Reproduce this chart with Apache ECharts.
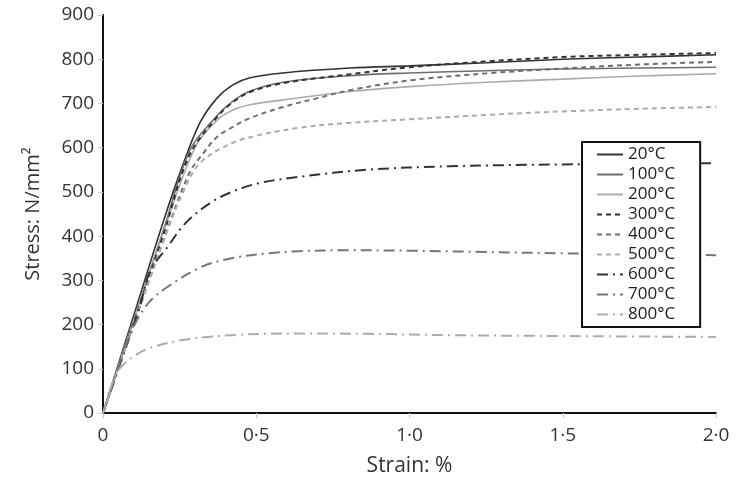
<!DOCTYPE html>
<html>
<head>
<meta charset="utf-8">
<script src="https://cdn.jsdelivr.net/npm/echarts@6/dist/echarts.min.js"></script>
<style>
  html, body { margin: 0; padding: 0; background: #fff; }
  #chart { width: 736px; height: 481px; }
</style>
</head>
<body>
<div id="chart"></div>
<script>
// strain (%) , stress (N/mm2)
var t20 = [[0,0],[0.1,220],[0.2,440],[0.258,556],[0.316,656],[0.372,712],[0.424,742],[0.48,758],[0.587,769],[0.806,780],[1.0,785],[1.25,792],[1.5,800],[1.75,805],[2.0,810]];
var t100 = [[0,0],[0.1,210],[0.2,420],[0.284,595],[0.372,672],[0.424,705],[0.48,728],[0.587,748],[0.806,763],[1.0,769],[1.25,774],[1.5,778],[1.75,780],[2.0,782]];
var t200 = [[0,0],[0.1,210],[0.2,415],[0.3,600],[0.372,662],[0.424,685],[0.48,697],[0.587,708],[0.806,727],[1.0,738],[1.25,748],[1.5,755],[1.75,762],[2.0,767]];
var t300 = [[0,0],[0.1,205],[0.2,410],[0.28,580],[0.372,669],[0.424,703],[0.48,726],[0.587,746],[0.806,766],[1.0,782],[1.25,795],[1.5,805],[1.75,810],[2.0,814]];
var t400 = [[0,0],[0.1,200],[0.2,395],[0.28,540],[0.33,590],[0.372,624],[0.424,647],[0.48,667],[0.587,692],[0.7,712],[0.806,730],[1.0,752],[1.25,768],[1.5,779],[1.75,788],[2.0,794]];
var t500 = [[0,0],[0.1,200],[0.2,395],[0.26,497],[0.316,565],[0.42,610],[0.5,627],[0.64,645],[0.8,656],[1.0,664],[1.25,674],[1.5,682],[1.75,688],[2.0,692]];
var t600 = [[0,0],[0.05,100],[0.12,240],[0.153,320],[0.21,375],[0.27,430],[0.35,475],[0.42,500],[0.51,520],[0.64,534],[0.86,550],[1.13,558],[1.5,562],[2.0,565]];
var t700 = [[0,0],[0.05,105],[0.1,195],[0.15,250],[0.21,285],[0.32,330],[0.42,350],[0.54,361],[0.64,366],[0.8,368],[1.0,367],[1.25,364],[1.5,361],[1.75,359],[2.0,357]];
var t800 = [[0,0],[0.04,85],[0.06,105],[0.1,128],[0.153,147],[0.26,165],[0.42,176],[0.64,180],[0.86,179],[1.13,176],[1.5,174],[2.0,172]];

var names = ['20°C','100°C','200°C','300°C','400°C','500°C','600°C','700°C','800°C'];
var curves = [t20, t100, t200, t300, t400, t500, t600, t700, t800];
var colors = ['#333333','#6e6e6e','#ababab','#333333','#6e6e6e','#ababab','#333333','#777777','#ababab'];
var dashes = ['solid','solid','solid',[5,4],[5,4],[5,4],[11,5,2,5],[11,5,2,5],[11,5,2,5]];

var font = '"Open Sans", "Noto Sans", sans-serif';

var series = [];
for (var i = 0; i < names.length; i++) {
    series.push({
        name: names[i],
        type: 'line',
        data: curves[i],
        symbol: 'none',
        smooth: 0.35,
        lineStyle: { color: colors[i], width: i < 3 ? 1.6 : 2, type: dashes[i] },
        itemStyle: { color: colors[i] }
    });
}

var myChart = echarts.init(document.getElementById('chart'));
var option = {
    animation: false,
    backgroundColor: '#fff',
    textStyle: { fontFamily: font },
    grid: { left: 103, right: 20, top: 15, bottom: 68, outerBoundsMode: 'none' },
    legend: {
        data: names,
        orient: 'vertical',
        left: 582,
        top: 142,
        padding: [4, 25, 4, 14],
        itemGap: 3,
        itemWidth: 26,
        itemHeight: 14,
        itemStyle: { opacity: 0 },
        borderColor: '#111',
        borderWidth: 2,
        backgroundColor: '#fff',
        textStyle: { fontSize: 17, color: '#222', fontFamily: font }
    },
    xAxis: {
        type: 'value',
        min: 0,
        max: 2,
        interval: 0.5,
        name: 'Strain: %',
        nameLocation: 'middle',
        nameGap: 43,
        nameTextStyle: { fontSize: 21, color: '#333', fontFamily: font },
        axisLine: { lineStyle: { color: '#111', width: 2 } },
        axisTick: { show: true, length: 5, lineStyle: { color: '#c8c8c8' } },
        splitLine: { show: false },
        axisLabel: {
            fontSize: 19, color: '#333', margin: 13,
            formatter: function (v) { return v === 0 ? '0' : v.toFixed(1).replace('.', '·'); }
        }
    },
    yAxis: {
        type: 'value',
        min: 0,
        max: 900,
        interval: 100,
        name: 'Stress: N/mm²',
        nameLocation: 'middle',
        nameGap: 60,
        nameTextStyle: { fontSize: 20, color: '#333', fontFamily: font },
        axisLine: { show: true, lineStyle: { color: '#111', width: 2 } },
        axisTick: { show: true, length: 5, lineStyle: { color: '#c8c8c8' } },
        splitLine: { show: false },
        axisLabel: { fontSize: 19, color: '#333', margin: 9 }
    },
    series: series
};
myChart.setOption(option);
</script>
</body>
</html>
